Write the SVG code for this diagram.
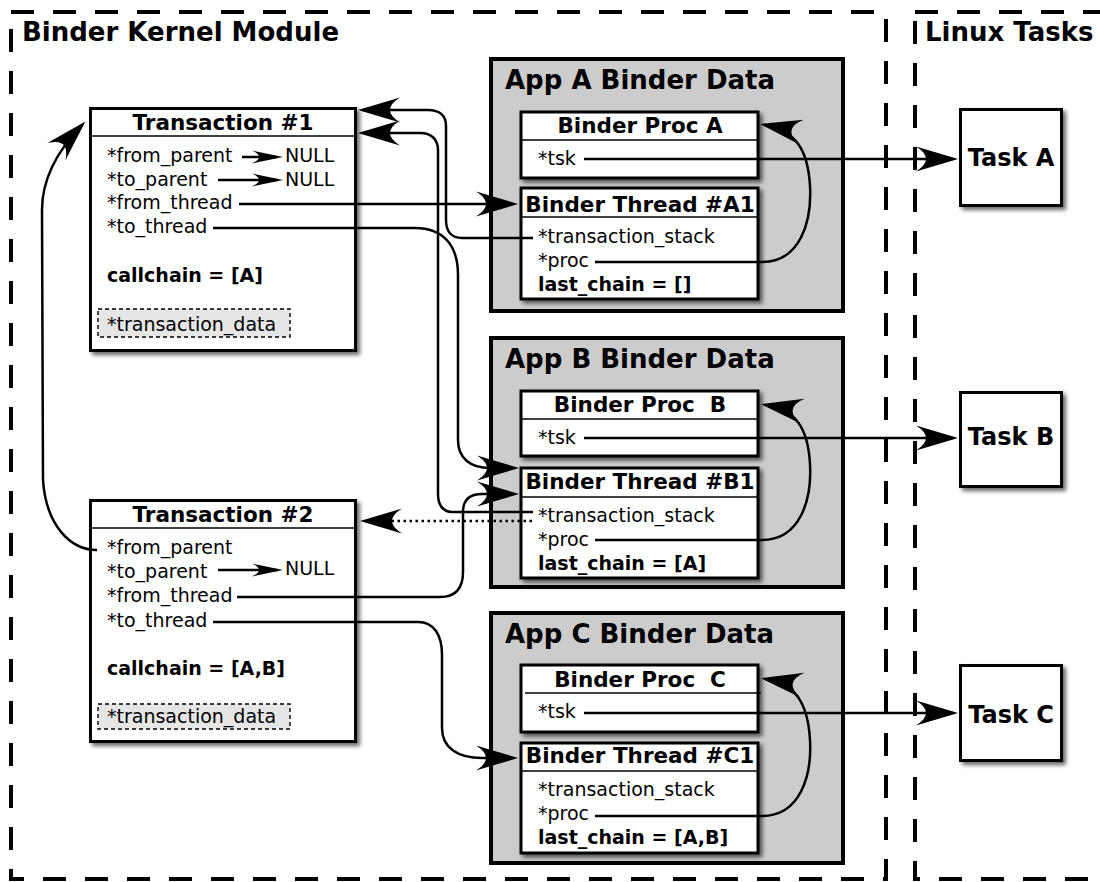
<svg xmlns="http://www.w3.org/2000/svg" width="1100" height="882" viewBox="0 0 1100 882">
  <defs>
    <style>
      text { font-family: "DejaVu Sans", "Liberation Sans", sans-serif; fill: #000; }
      .region { fill: none; stroke: #000; stroke-width: 4; stroke-dasharray: 23 19; }
      .region-title { font-size: 26px; font-weight: bold; }
      .app { fill: #cccccc; stroke: #000; stroke-width: 4; }
      .app-title { font-size: 26px; font-weight: bold; }
      .box { fill: #fff; stroke: #000; stroke-width: 3; filter: url(#shadow); }
      .sep { stroke: #000; stroke-width: 1.5; }
      .title { font-size: 21.5px; font-weight: bold; text-anchor: middle; white-space: pre; }
      .field { font-size: 19px; }
      .strong { font-size: 19px; font-weight: bold; }
      .task { font-size: 24px; font-weight: bold; text-anchor: middle; }
      .data { fill: #e6e6e6; stroke: #000; stroke-width: 1.4; stroke-dasharray: 4 3; }
      .link { fill: none; stroke: #000; stroke-width: 2.5; marker-end: url(#arrow); }
      .link-small { fill: none; stroke: #000; stroke-width: 2.3; marker-end: url(#arrow-small); }
      .dotted { stroke-dasharray: 2.5 3.5; }
    </style>
    <filter id="shadow" x="-10%" y="-10%" width="130%" height="130%">
      <feGaussianBlur in="SourceAlpha" stdDeviation="2"/>
      <feOffset dx="3" dy="3" result="off"/>
      <feComponentTransfer><feFuncA type="linear" slope="0.6"/></feComponentTransfer>
      <feMerge><feMergeNode/><feMergeNode in="SourceGraphic"/></feMerge>
    </filter>
    <!-- swallow-tail arrowheads; tip sits 5/6 px beyond the path end -->
    <marker id="arrow" markerUnits="userSpaceOnUse" orient="auto" refX="0" refY="0"
            markerWidth="50" markerHeight="30" viewBox="-40 -15 50 30" overflow="visible">
      <path d="M5,0 L-37,-12.5 Q-17,0 -37,12.5 Z" fill="#000"/>
    </marker>
    <marker id="arrow-small" markerUnits="userSpaceOnUse" orient="auto" refX="0" refY="0"
            markerWidth="40" markerHeight="16" viewBox="-30 -8 40 16" overflow="visible">
      <path d="M6,0 L-25,-6.5 Q-11,0 -25,6.5 Z" fill="#000"/>
    </marker>
  </defs>

  <rect width="1100" height="882" fill="#fff"/>

  <!-- address-space regions -->
  <g id="kernel-module">
    <rect class="region" x="11" y="12" width="875" height="867"/>
    <text class="region-title" x="22" y="41">Binder Kernel Module</text>
  </g>
  <g id="linux-tasks">
    <rect class="region" x="915" y="12" width="220" height="867"/>
    <text class="region-title" x="925" y="41">Linux Tasks</text>
  </g>

  <!-- transactions -->
  <g id="transaction-1">
    <rect class="box" x="90.5" y="108.5" width="265" height="242"/>
    <line class="sep" x1="90" y1="136" x2="356" y2="136"/>
    <text class="title" x="223" y="130">Transaction #1</text>
    <text class="field" x="107" y="162">*from_parent</text>
    <text class="field" x="285" y="162">NULL</text>
    <text class="field" x="107" y="186">*to_parent</text>
    <text class="field" x="285" y="186">NULL</text>
    <text class="field" x="107" y="209">*from_thread</text>
    <text class="field" x="107" y="233">*to_thread</text>
    <text class="strong" x="107" y="282">callchain = [A]</text>
    <rect class="data" x="98" y="309" width="192" height="28"/>
    <text class="field" x="107" y="331">*transaction_data</text>
  </g>

  <g id="transaction-2">
    <rect class="box" x="90.5" y="500.5" width="265" height="241"/>
    <line class="sep" x1="90" y1="528" x2="356" y2="528"/>
    <text class="title" x="223" y="522">Transaction #2</text>
    <text class="field" x="107" y="554">*from_parent</text>
    <text class="field" x="107" y="578">*to_parent</text>
    <text class="field" x="285" y="575">NULL</text>
    <text class="field" x="107" y="602">*from_thread</text>
    <text class="field" x="107" y="627">*to_thread</text>
    <text class="strong" x="107" y="675">callchain = [A,B]</text>
    <rect class="data" x="98" y="704" width="192" height="25"/>
    <text class="field" x="107" y="723">*transaction_data</text>
  </g>

  <!-- per-application binder data -->
  <g id="app-a">
    <rect class="app" x="491" y="59" width="352" height="252"/>
    <text class="app-title" x="505" y="89">App A Binder Data</text>
  </g>
  <g id="proc-a">
    <rect class="box" x="521" y="112" width="237" height="66"/>
    <line class="sep" x1="521" y1="140" x2="758" y2="140"/>
    <text class="title" x="640" y="133">Binder Proc A</text>
    <text class="field" x="538" y="165">*tsk</text>
  </g>
  <g id="thread-a1">
    <rect class="box" x="521" y="188" width="237" height="111"/>
    <line class="sep" x1="521" y1="217" x2="758" y2="217"/>
    <text class="title" x="640" y="212">Binder Thread #A1</text>
    <text class="field" x="538" y="243">*transaction_stack</text>
    <text class="field" x="538" y="267">*proc</text>
    <text class="strong" x="538" y="291">last_chain = []</text>
  </g>

  <g id="app-b">
    <rect class="app" x="491" y="338" width="352" height="249"/>
    <text class="app-title" x="505" y="368">App B Binder Data</text>
  </g>
  <g id="proc-b">
    <rect class="box" x="521" y="391" width="237" height="65"/>
    <line class="sep" x1="521" y1="419" x2="758" y2="419"/>
    <text class="title" x="640" y="412" xml:space="preserve">Binder Proc  B</text>
    <text class="field" x="538" y="444">*tsk</text>
  </g>
  <g id="thread-b1">
    <rect class="box" x="521" y="468" width="237" height="110"/>
    <line class="sep" x1="521" y1="497" x2="758" y2="497"/>
    <text class="title" x="640" y="489">Binder Thread #B1</text>
    <text class="field" x="538" y="522">*transaction_stack</text>
    <text class="field" x="538" y="546">*proc</text>
    <text class="strong" x="538" y="570">last_chain = [A]</text>
  </g>

  <g id="app-c">
    <rect class="app" x="491" y="613" width="352" height="250"/>
    <text class="app-title" x="505" y="643">App C Binder Data</text>
  </g>
  <g id="proc-c">
    <rect class="box" x="521" y="665" width="237" height="67"/>
    <line class="sep" x1="525" y1="693" x2="761" y2="693"/>
    <text class="title" x="640" y="687" xml:space="preserve">Binder Proc  C</text>
    <text class="field" x="538" y="718">*tsk</text>
  </g>
  <g id="thread-c1">
    <rect class="box" x="521" y="743" width="237" height="110"/>
    <line class="sep" x1="521" y1="771" x2="758" y2="771"/>
    <text class="title" x="640" y="763">Binder Thread #C1</text>
    <text class="field" x="538" y="796">*transaction_stack</text>
    <text class="field" x="538" y="820">*proc</text>
    <text class="strong" x="538" y="844">last_chain = [A,B]</text>
  </g>

  <!-- kernel task structs -->
  <g id="task-a">
    <rect class="box" x="960.5" y="109.5" width="101" height="96"/>
    <text class="task" x="1011" y="166">Task A</text>
  </g>
  <g id="task-b">
    <rect class="box" x="960.5" y="392.5" width="101" height="94"/>
    <text class="task" x="1011" y="445">Task B</text>
  </g>
  <g id="task-c">
    <rect class="box" x="960.5" y="665.5" width="101" height="95"/>
    <text class="task" x="1011" y="723">Task C</text>
  </g>

  <!-- pointers -->
  <g id="connectors">
    <path class="link-small" d="M242,157 L277,157"/>
    <path class="link-small" d="M218,180 L277,180"/>
    <path class="link-small" d="M218,570 L277,570"/>

    <path class="link" d="M239,204 L513,204"/>
    <path class="link" d="M533,238 L462,238 C452,238 446,232 446,220 L446,126 C446,116 440,110 428,110 L363,110"/>
    <path class="link" d="M533,512 L452,512 C443,512 438,505 438,494 L438,150 C438,140 432,133 420,133 L363,133"/>
    <path class="link" d="M213,228 L415,228 C443,228 458,245 458,275 L458,440 C458,458 470,468 490,468 L514,468"/>
    <path class="link" d="M237,597 L440,597 C456,597 463,588 463,572 L463,512 C463,500 469,494 482,494 L514,494"/>
    <path class="link" d="M213,622 L418,622 C434,622 442,635 442,655 L442,728 C442,748 458,758 482,758 L513,758"/>
    <path class="link dotted" d="M532,521 L365,521"/>
    <path class="link" d="M97,550 C70,550 46,525 43,480 L42,210 C42,178 58,150 82,125"/>

    <path class="link" d="M584,159 L953,159"/>
    <path class="link" d="M584,438 L953,438"/>
    <path class="link" d="M584,713 L953,713"/>

    <path class="link" d="M595,262 L762,262 C800,262 812,222 810,186 C808,150 796,131 765,125"/>
    <path class="link" d="M595,540 L762,540 C800,540 812,500 810,464 C808,428 796,410 766,405"/>
    <path class="link" d="M595,816 L762,816 C800,816 812,776 810,740 C808,704 796,684 766,679"/>
  </g>
</svg>
